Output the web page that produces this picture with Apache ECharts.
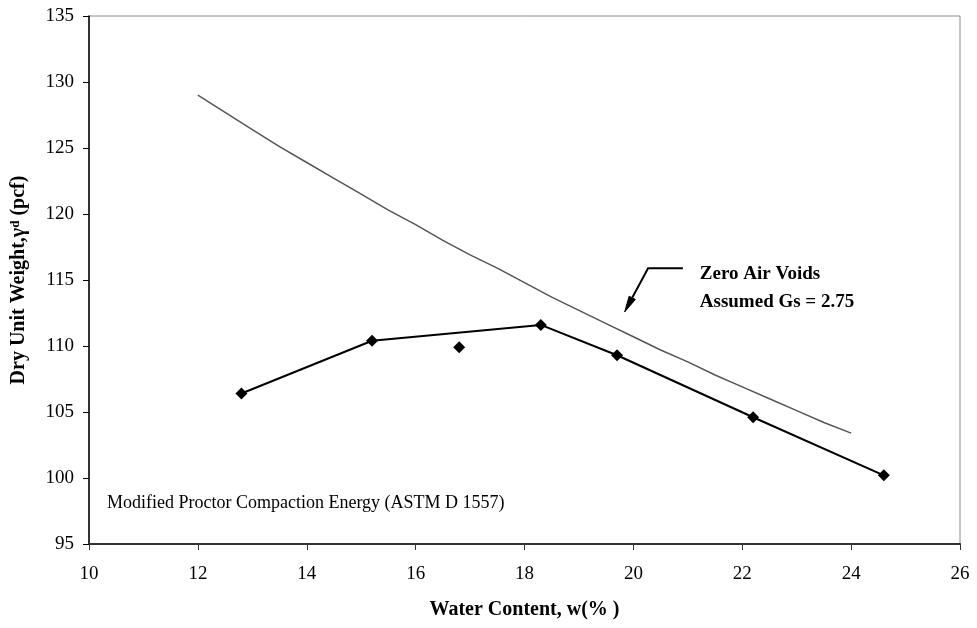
<!DOCTYPE html>
<html>
<head>
<meta charset="utf-8">
<script src="https://cdn.jsdelivr.net/npm/echarts@6/dist/echarts.min.js"></script>
<style>
  html, body { margin: 0; padding: 0; background: #fff; }
  #chart { width: 977px; height: 628px; }
</style>
</head>
<body>
<div id="chart"></div>
<script>
// Compaction test results: water content (%) vs dry unit weight (pcf)
var testWater = [12.8, 15.2, 18.3, 19.7, 22.2, 24.6];
var testDensity = [106.4, 110.4, 111.6, 109.3, 104.6, 100.2];
// Point not joined by the compaction curve
var outlierWater = [16.8];
var outlierDensity = [109.9];

// Zero air voids curve (Gs = 2.75)
var zavWater = [12, 12.5, 13, 13.5, 14, 14.5, 15, 15.5, 16, 16.5, 17, 17.5, 18,
                18.5, 19, 19.5, 20, 20.5, 21, 21.5, 22, 22.5, 23, 23.5, 24];
var zavDensity = [129.0, 127.7, 126.4, 125.1, 123.9, 122.7, 121.5, 120.3, 119.2, 118.0,
                  116.9, 115.9, 114.8, 113.7, 112.7, 111.7, 110.7, 109.7, 108.8, 107.8,
                  106.9, 106.0, 105.1, 104.2, 103.4];

// Axis ranges
var xMin = 10, xMax = 26, xStep = 2;
var yMin = 95, yMax = 135, yStep = 5;

var serif = '"Liberation Serif", "Times New Roman", serif';

function pairs(xs, ys) {
  return xs.map(function (x, i) { return [x, ys[i]]; });
}

var chart = echarts.init(document.getElementById('chart'), null, { renderer: 'canvas' });

chart.setOption({
  backgroundColor: '#fff',
  animation: false,
  grid: {
    left: 89, right: 17, top: 16, bottom: 84,
    show: true, borderColor: '#8a8a8a', borderWidth: 1, backgroundColor: '#fff'
  },
  xAxis: {
    type: 'value', min: xMin, max: xMax, interval: xStep,
    name: 'Water Content, w(% )',
    nameLocation: 'middle', nameGap: 56,
    nameTextStyle: { fontFamily: serif, fontWeight: 'bold', fontSize: 20, color: '#000' },
    axisLine: { show: true, onZero: false, lineStyle: { color: '#333', width: 2 } },
    axisTick: { show: true, inside: false, length: 6, lineStyle: { color: '#333', width: 1 } },
    axisLabel: { fontFamily: serif, fontSize: 19, color: '#000', margin: 21 },
    splitLine: { show: false }
  },
  yAxis: {
    type: 'value', min: yMin, max: yMax, interval: yStep,
    name: 'Dry Unit Weight,{g|γ}{s|d} (pcf)',
    nameLocation: 'middle', nameGap: 60, nameRotate: 90,
    nameTextStyle: {
      fontFamily: serif, fontWeight: 'bold', fontSize: 20, color: '#000',
      rich: {
        g: { fontFamily: serif, fontWeight: 'bold', fontSize: 20, color: '#000' },
        s: { fontFamily: serif, fontWeight: 'bold', fontSize: 13, color: '#000', verticalAlign: 'top' }
      }
    },
    axisLine: { show: true, onZero: false, lineStyle: { color: '#000', width: 1.5 } },
    axisTick: { show: true, inside: false, length: 6, lineStyle: { color: '#000', width: 1 } },
    axisLabel: { fontFamily: serif, fontSize: 19, color: '#000', margin: 15 },
    splitLine: { show: false }
  },
  series: [
    {
      name: 'Zero Air Voids',
      type: 'line',
      data: pairs(zavWater, zavDensity),
      smooth: false,
      symbol: 'none',
      lineStyle: { color: '#555', width: 1.5 },
      z: 2
    },
    {
      name: 'Compaction',
      type: 'line',
      data: pairs(testWater, testDensity),
      symbol: 'diamond',
      symbolSize: 12,
      itemStyle: { color: '#000', opacity: 1 },
      lineStyle: { color: '#000', width: 2 },
      z: 3
    },
    {
      name: 'Compaction point',
      type: 'scatter',
      data: pairs(outlierWater, outlierDensity),
      symbol: 'diamond',
      symbolSize: 12,
      itemStyle: { color: '#000', opacity: 1 },
      z: 3
    }
  ]
});

// Annotations anchored in data coordinates
function px(x, y) { return chart.convertToPixel({ gridIndex: 0 }, [x, y]); }

var leaderEnd = px(20.91, 115.89);
var leaderElbow = px(20.27, 115.89);
var leaderTip = px(19.84, 112.58);

// Arrowhead geometry along the leader direction
var dx = leaderTip[0] - leaderElbow[0], dy = leaderTip[1] - leaderElbow[1];
var len = Math.sqrt(dx * dx + dy * dy);
var ux = dx / len, uy = dy / len;
var headLen = 16, headHalf = 3.5;
var baseX = leaderTip[0] - ux * headLen, baseY = leaderTip[1] - uy * headLen;
var headPts = [
  [leaderTip[0], leaderTip[1]],
  [baseX - uy * headHalf, baseY + ux * headHalf],
  [baseX + uy * headHalf, baseY - ux * headHalf]
];

var zavLabel1 = px(21.22, 115.45);
var zavLabel2 = px(21.22, 113.36);
var energyLabel = px(10.33, 98.1);

chart.setOption({
  graphic: [
    {
      type: 'polyline',
      shape: { points: [leaderEnd, leaderElbow, [baseX, baseY]] },
      style: { stroke: '#000', lineWidth: 2, fill: null },
      z: 10
    },
    {
      type: 'polygon',
      shape: { points: headPts },
      style: { fill: '#000', stroke: '#000', lineWidth: 1 },
      z: 10
    },
    {
      type: 'text',
      x: zavLabel1[0], y: zavLabel1[1],
      style: {
        text: 'Zero Air Voids', fill: '#000',
        font: 'bold 19px ' + serif, verticalAlign: 'middle', align: 'left'
      },
      z: 10
    },
    {
      type: 'text',
      x: zavLabel2[0], y: zavLabel2[1],
      style: {
        text: 'Assumed Gs = 2.75', fill: '#000',
        font: 'bold 19px ' + serif, verticalAlign: 'middle', align: 'left'
      },
      z: 10
    },
    {
      type: 'text',
      x: energyLabel[0], y: energyLabel[1],
      style: {
        text: 'Modified Proctor Compaction Energy (ASTM D 1557)', fill: '#000',
        font: '18px ' + serif, verticalAlign: 'middle', align: 'left'
      },
      z: 10
    }
  ]
});
</script>
</body>
</html>
